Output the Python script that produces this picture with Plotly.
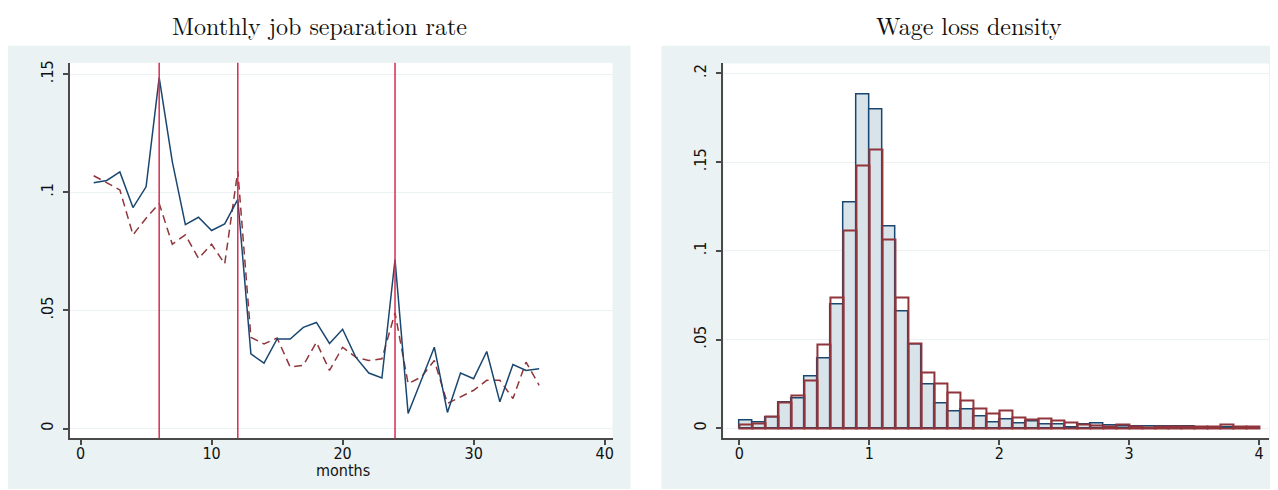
import plotly.graph_objects as go

# left panel: monthly job separation rate
months = list(range(1, 36))
sep_solid = [0.104, 0.105, 0.1086, 0.0935, 0.1023, 0.1485, 0.113, 0.0863, 0.0894, 0.0838,
             0.0866, 0.097, 0.0316, 0.0277, 0.0379, 0.0379, 0.0428, 0.0449, 0.036, 0.042,
             0.0302, 0.0235, 0.0214, 0.0715, 0.0064, 0.0204, 0.0344, 0.0068, 0.0235, 0.0211,
             0.0326, 0.0113, 0.0271, 0.0246, 0.0253]
sep_dashed = [0.107, 0.104, 0.101, 0.082, 0.089, 0.0953, 0.078, 0.082, 0.072, 0.078,
              0.0697, 0.109, 0.0386, 0.0358, 0.0383, 0.026, 0.0267, 0.0365, 0.0246, 0.0344,
              0.0302, 0.0288, 0.0295, 0.049, 0.019, 0.0218, 0.0288, 0.0106, 0.0134, 0.0162,
              0.0204, 0.0204, 0.0127, 0.0281, 0.0183]
break_months = [6, 12, 24]

# right panel: wage loss density, bins of width 0.1 from 0 to 4
bin_width = 0.1
bin_left = [round(i * bin_width, 1) for i in range(40)]
dens_fill = [0.0043, 0.0035, 0.0062, 0.0144, 0.0170, 0.0292, 0.0396, 0.0697, 0.1273, 0.1882,
             0.1798, 0.1140, 0.0660, 0.0475, 0.0249, 0.0142, 0.0097, 0.0105, 0.0067, 0.0034,
             0.0049, 0.0026, 0.0037, 0.0019, 0.0019, 0.0006, 0.0020, 0.0026, 0.0017, 0.0010,
             0.0009, 0.0011, 0.0008, 0.0008, 0.0011, 0.0007, 0.0007, 0.0006, 0.0007, 0.0007]
dens_outline = [0.0022, 0.0027, 0.0066, 0.0148, 0.0187, 0.0267, 0.0470, 0.0740, 0.1116, 0.1482,
                0.1574, 0.1064, 0.0740, 0.0479, 0.0312, 0.0252, 0.0200, 0.0155, 0.0110, 0.0086,
                0.0099, 0.0062, 0.0049, 0.0056, 0.0047, 0.0034, 0.0024, 0.0017, 0.0013, 0.0019,
                0.0009, 0.0007, 0.0008, 0.0008, 0.0008, 0.0008, 0.0008, 0.0020, 0.0008, 0.0008]

left_ticks = [0, 0.05, 0.1, 0.15]
left_ticktext = ["0", ".05", ".1", ".15"]
right_ticks = [0, 0.05, 0.1, 0.15, 0.2]
right_ticktext = ["0", ".05", ".1", ".15", ".2"]

NAVY = "#1a476f"
MAROON = "#90353b"
VLINE = "#d42e52"
PANEL = "#eaf2f3"
AXIS = "#4a4a4a"
tick_font = dict(family="Liberation Sans Narrow, Arial Narrow, DejaVu Sans Condensed, sans-serif",
                 size=16, color="#111111")
title_font = dict(family="Latin Modern Roman, CMU Serif, Liberation Serif, serif",
                  size=24, color="#111111")

# the page body adds an 8px margin, so the figure is drawn 8px in from the window corner
OFF = 8
W, H = 1278 - OFF, 490 - OFF


def px_x(p):
    return (p - OFF) / W


def px_y(p):
    return 1 - (p - OFF) / H


fig = go.Figure()

fig.add_trace(go.Scatter(x=months, y=sep_dashed, mode="lines", xaxis="x", yaxis="y",
                         line=dict(color=MAROON, width=1.5, dash="8px,5px"), showlegend=False))
fig.add_trace(go.Scatter(x=months, y=sep_solid, mode="lines", xaxis="x", yaxis="y",
                         line=dict(color=NAVY, width=1.5), showlegend=False))

fig.add_trace(go.Bar(x=bin_left, y=dens_fill, width=bin_width, offset=0, xaxis="x2", yaxis="y2",
                     marker=dict(color="#d9e4ea", line=dict(color=NAVY, width=1.5)),
                     showlegend=False))
fig.add_trace(go.Bar(x=bin_left, y=dens_outline, width=bin_width, offset=0, xaxis="x2", yaxis="y2",
                     marker=dict(color="rgba(0,0,0,0)", line=dict(color=MAROON, width=2)),
                     showlegend=False))

# panel backgrounds (Stata style graph region) with white plot regions on top
for x0, x1 in [(7, 631), (662, 1290)]:
    fig.add_shape(type="rect", xref="paper", yref="paper",
                  x0=px_x(x0), x1=px_x(x1), y0=px_y(489), y1=px_y(44),
                  fillcolor=PANEL, line=dict(width=0), layer="below")
for xr, yr in [("x", "y"), ("x2", "y2")]:
    fig.add_shape(type="rect", xref=xr + " domain", yref=yr + " domain",
                  x0=0, x1=1, y0=0, y1=1,
                  fillcolor="white", line=dict(width=0), layer="below")

for m in break_months:
    fig.add_shape(type="line", xref="x", yref="y domain", x0=m, x1=m, y0=0, y1=1,
                  line=dict(color=VLINE, width=1.5), layer="above")

axis_common = dict(showline=True, linecolor=AXIS, linewidth=2, ticks="outside",
                   ticklen=5, tickwidth=1.5, tickcolor=AXIS, tickfont=tick_font,
                   zeroline=False, mirror=False)

fig.update_layout(
    width=W, height=H,
    margin=dict(l=0, r=0, t=0, b=0),
    paper_bgcolor="white",
    plot_bgcolor="white",
    barmode="overlay",
    bargap=0,
    xaxis=dict(domain=[px_x(70), px_x(613)], range=[-0.81, 40.6], anchor="y",
               tickvals=[0, 10, 20, 30, 40], showgrid=False, ticklabelstandoff=-5,
               **axis_common),
    yaxis=dict(domain=[px_y(438), px_y(61)], range=[-0.0041, 0.1548], anchor="x",
               tickvals=left_ticks, ticktext=left_ticktext, tickangle=-90,
               ticklabelstandoff=4,
               showgrid=True, gridcolor=PANEL, gridwidth=1.2, **axis_common),
    xaxis2=dict(domain=[px_x(724), px_x(1270)], range=[-0.123, 4.077], anchor="y2",
                tickvals=[0, 1, 2, 3, 4], showgrid=False, ticklabelstandoff=-5,
                **axis_common),
    yaxis2=dict(domain=[px_y(437.7), px_y(61.7)], range=[-0.0054, 0.2056], anchor="x2",
                tickvals=right_ticks, ticktext=right_ticktext, tickangle=-90,
                ticklabelstandoff=4,
                showgrid=True, gridcolor=PANEL, gridwidth=1.2, **axis_common),
    annotations=[
        dict(text="Monthly job separation rate", x=px_x(320), y=px_y(23), xref="paper",
             yref="paper", showarrow=False, font=title_font, xanchor="center", yanchor="middle"),
        dict(text="Wage loss density", x=px_x(970), y=px_y(23), xref="paper",
             yref="paper", showarrow=False, font=title_font, xanchor="center", yanchor="middle"),
        dict(text="months", x=20, xref="x", y=px_y(470), yref="paper", showarrow=False,
             font=tick_font, xanchor="center", yanchor="middle"),
    ],
)

fig.write_html("out.html")
